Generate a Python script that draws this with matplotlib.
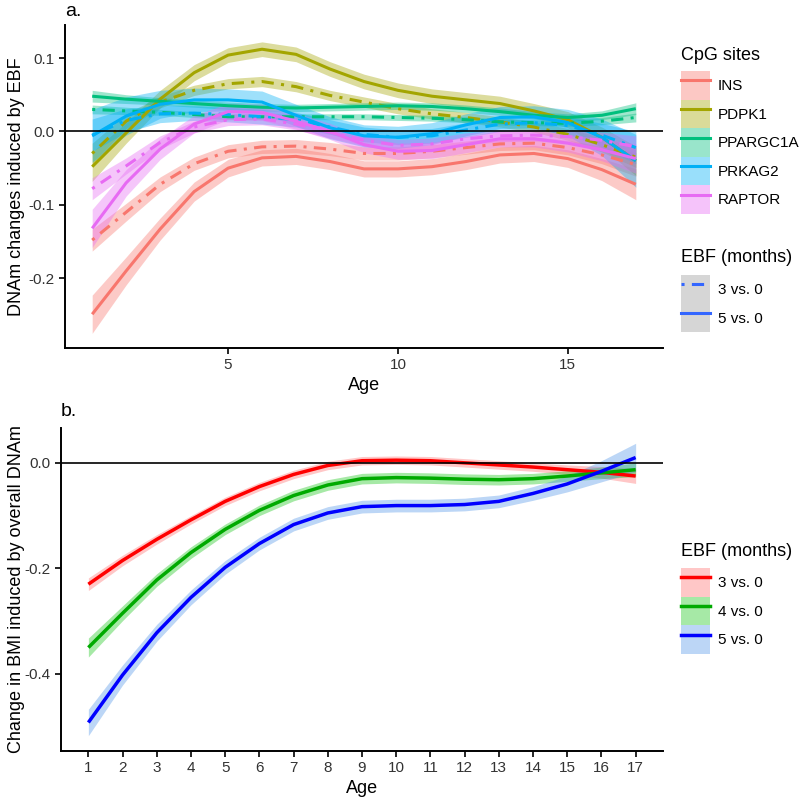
import numpy as np
import matplotlib
matplotlib.use("Agg")
import matplotlib.pyplot as plt
from matplotlib.patches import Patch
from matplotlib.lines import Line2D

plt.rcParams['font.family'] = ['Liberation Sans', 'DejaVu Sans']

# ---------------- data ----------------
ages = list(range(1, 18))

genes = ["INS", "PDPK1", "PPARGC1A", "PRKAG2", "RAPTOR"]
gene_colors = ["#F8766D", "#A3A500", "#00BF7D", "#00B0F6", "#E76BF3"]

# panel a: EBF 5 vs. 0 (solid) and 3 vs. 0 (dashed); *_ci = half-width of band
INS_5 = [-0.249, -0.190, -0.133, -0.082, -0.050, -0.036, -0.034, -0.041, -0.051, -0.051, -0.048, -0.041, -0.032, -0.030, -0.037, -0.052, -0.072]
INS_5_ci = [0.026, 0.019, 0.015, 0.013, 0.012, 0.011, 0.011, 0.011, 0.011, 0.011, 0.011, 0.011, 0.011, 0.011, 0.012, 0.015, 0.021]
INS_3 = [-0.148, -0.110, -0.072, -0.044, -0.027, -0.021, -0.020, -0.024, -0.030, -0.030, -0.027, -0.022, -0.017, -0.016, -0.022, -0.032, -0.045]
INS_3_ci = [0.015, 0.012, 0.010, 0.009, 0.009, 0.009, 0.009, 0.009, 0.009, 0.009, 0.009, 0.009, 0.009, 0.009, 0.010, 0.012, 0.016]

PDPK1_5 = [-0.048, -0.002, 0.044, 0.080, 0.104, 0.112, 0.105, 0.085, 0.068, 0.056, 0.048, 0.043, 0.038, 0.028, 0.016, -0.008, -0.040]
PDPK1_5_ci = [0.020, 0.014, 0.012, 0.011, 0.010, 0.010, 0.010, 0.010, 0.010, 0.010, 0.010, 0.010, 0.010, 0.010, 0.011, 0.014, 0.020]
PDPK1_3 = [-0.030, 0.014, 0.040, 0.056, 0.065, 0.068, 0.061, 0.049, 0.040, 0.031, 0.024, 0.019, 0.013, 0.006, -0.004, -0.018, -0.035]
PDPK1_3_ci = [0.014, 0.010, 0.008, 0.007, 0.007, 0.007, 0.007, 0.007, 0.007, 0.007, 0.007, 0.007, 0.007, 0.007, 0.008, 0.010, 0.014]

PPARGC1A_5 = [0.048, 0.044, 0.041, 0.038, 0.035, 0.033, 0.032, 0.033, 0.034, 0.035, 0.034, 0.031, 0.027, 0.022, 0.019, 0.022, 0.031]
PPARGC1A_5_ci = [0.008, 0.006, 0.005, 0.005, 0.005, 0.005, 0.005, 0.005, 0.005, 0.005, 0.005, 0.005, 0.005, 0.005, 0.005, 0.006, 0.008]
PPARGC1A_3 = [0.030, 0.028, 0.026, 0.023, 0.020, 0.020, 0.020, 0.020, 0.020, 0.019, 0.018, 0.016, 0.013, 0.012, 0.011, 0.014, 0.019]
PPARGC1A_3_ci = [0.006, 0.005, 0.004, 0.004, 0.004, 0.004, 0.004, 0.004, 0.004, 0.004, 0.004, 0.004, 0.004, 0.004, 0.004, 0.005, 0.006]

PRKAG2_5 = [-0.006, 0.021, 0.037, 0.043, 0.043, 0.040, 0.022, 0.005, -0.006, -0.008, -0.003, 0.009, 0.019, 0.020, 0.012, -0.008, -0.040]
PRKAG2_5_ci = [0.036, 0.026, 0.019, 0.016, 0.015, 0.015, 0.015, 0.015, 0.015, 0.015, 0.015, 0.015, 0.015, 0.015, 0.018, 0.025, 0.036]
PRKAG2_3 = [-0.005, 0.015, 0.024, 0.025, 0.023, 0.020, 0.016, 0.006, -0.004, -0.008, -0.006, 0.002, 0.010, 0.012, 0.008, -0.005, -0.022]
PRKAG2_3_ci = [0.022, 0.016, 0.012, 0.010, 0.010, 0.010, 0.010, 0.010, 0.010, 0.010, 0.010, 0.010, 0.010, 0.010, 0.012, 0.016, 0.022]

RAPTOR_5 = [-0.132, -0.070, -0.024, 0.010, 0.027, 0.026, 0.014, 0.000, -0.018, -0.027, -0.026, -0.018, -0.010, -0.010, -0.016, -0.025, -0.037]
RAPTOR_5_ci = [0.026, 0.018, 0.014, 0.012, 0.011, 0.011, 0.011, 0.011, 0.011, 0.011, 0.011, 0.011, 0.011, 0.011, 0.012, 0.015, 0.020]
RAPTOR_3 = [-0.078, -0.047, -0.015, 0.006, 0.016, 0.017, 0.010, -0.001, -0.012, -0.019, -0.017, -0.010, -0.006, -0.005, -0.007, -0.012, -0.021]
RAPTOR_3_ci = [0.015, 0.011, 0.009, 0.008, 0.008, 0.008, 0.008, 0.008, 0.008, 0.008, 0.008, 0.008, 0.008, 0.008, 0.009, 0.011, 0.015]

series_5 = [INS_5, PDPK1_5, PPARGC1A_5, PRKAG2_5, RAPTOR_5]
series_5_ci = [INS_5_ci, PDPK1_5_ci, PPARGC1A_5_ci, PRKAG2_5_ci, RAPTOR_5_ci]
series_3 = [INS_3, PDPK1_3, PPARGC1A_3, PRKAG2_3, RAPTOR_3]
series_3_ci = [INS_3_ci, PDPK1_3_ci, PPARGC1A_3_ci, PRKAG2_3_ci, RAPTOR_3_ci]

ebf_labels = ["3 vs. 0", "5 vs. 0"]

# panel b
bmi_labels = ["3 vs. 0", "4 vs. 0", "5 vs. 0"]
bmi_colors = ["#FF0000", "#00AA00", "#0000FF"]
bmi_fills = ["#FF0000", "#00C000", "#3F8AE6"]
bmi_alphas = [0.22, 0.35, 0.35]
bmi_3 = [-0.230, -0.185, -0.145, -0.108, -0.073, -0.045, -0.022, -0.005, 0.004, 0.005, 0.004, 0.000, -0.004, -0.008, -0.013, -0.018, -0.025]
bmi_3_ci = [0.012, 0.010, 0.009, 0.008, 0.008, 0.008, 0.008, 0.008, 0.008, 0.008, 0.008, 0.008, 0.008, 0.008, 0.009, 0.011, 0.014]
bmi_4 = [-0.350, -0.285, -0.222, -0.170, -0.126, -0.090, -0.062, -0.042, -0.030, -0.028, -0.029, -0.031, -0.032, -0.030, -0.025, -0.019, -0.013]
bmi_4_ci = [0.018, 0.014, 0.012, 0.011, 0.010, 0.010, 0.010, 0.010, 0.010, 0.010, 0.010, 0.010, 0.010, 0.010, 0.010, 0.011, 0.013]
bmi_5 = [-0.492, -0.402, -0.322, -0.255, -0.198, -0.153, -0.117, -0.095, -0.083, -0.081, -0.081, -0.079, -0.073, -0.058, -0.040, -0.016, 0.010]
bmi_5_ci = [0.025, 0.019, 0.016, 0.014, 0.013, 0.012, 0.012, 0.012, 0.012, 0.012, 0.012, 0.012, 0.012, 0.013, 0.015, 0.020, 0.027]
bmi_series = [bmi_3, bmi_4, bmi_5]
bmi_ci = [bmi_3_ci, bmi_4_ci, bmi_5_ci]

# ---------------- figure ----------------
W = H = 800
fig = plt.figure(figsize=(8, 8), dpi=100)

def box(l, t, r, b):
    return [l / W, 1 - b / H, (r - l) / W, (b - t) / H]

A_L, A_R, A_T, A_B = 65, 663, 25, 348
B_L, B_R, B_T, B_B = 61, 663, 428, 751
ax1 = fig.add_axes(box(A_L, A_T, A_R, A_B))
ax2 = fig.add_axes(box(B_L, B_T, B_R, B_B))

TICK_FS = 11
TITLE_FS = 13
LEG_FS = 11
x = np.array(ages, dtype=float)
dash_pat = (1, 2.4, 4, 2.4)
LW_A = 2.2
LW_B = 2.5

for c, s5, c5, s3, c3 in zip(gene_colors, series_5, series_5_ci, series_3, series_3_ci):
    s5, c5, s3, c3 = map(np.array, (s5, c5, s3, c3))
    ax1.fill_between(x, s3 - c3, s3 + c3, color=c, alpha=0.38, lw=0)
    ax1.fill_between(x, s5 - c5, s5 + c5, color=c, alpha=0.38, lw=0)
for c, s5, s3 in zip(gene_colors, series_5, series_3):
    ax1.plot(x, s3, color=c, lw=LW_A, dashes=dash_pat, solid_capstyle='butt')
    ax1.plot(x, s5, color=c, lw=LW_A, solid_capstyle='butt')

ax1.axhline(0, color='black', lw=1.2)
ax1.set_xlim(0.2, 17.8)
ax1.set_ylim(-0.295, 0.145)
ax1.set_xticks([5, 10, 15])
ax1.set_yticks([-0.2, -0.1, 0.0, 0.1])
ax1.set_yticklabels(["-0.2", "-0.1", "0.0", "0.1"])
ax1.set_xlabel("Age", fontsize=TITLE_FS, labelpad=3)
ax1.set_ylabel("DNAm changes induced by EBF", fontsize=TITLE_FS)
ax1.yaxis.set_label_coords((25 - A_L) / (A_R - A_L), 0.5)

for c, s, ci, fc, fa in zip(bmi_colors, bmi_series, bmi_ci, bmi_fills, bmi_alphas):
    s, ci = np.array(s), np.array(ci)
    ax2.fill_between(x, s - ci, s + ci, color=fc, alpha=fa, lw=0)
for c, s in zip(bmi_colors, bmi_series):
    ax2.plot(x, s, color=c, lw=LW_B, solid_capstyle='butt')
ax2.axhline(0, color='black', lw=1.2)
ax2.set_xlim(0.2, 17.8)
ax2.set_ylim(-0.546, 0.066)
ax2.set_xticks(ages)
ax2.set_yticks([-0.4, -0.2, 0.0])
ax2.set_yticklabels(["-0.4", "-0.2", "0.0"])
ax2.set_xlabel("Age", fontsize=TITLE_FS, labelpad=3)
ax2.set_ylabel("Change in BMI induced by overall DNAm", fontsize=TITLE_FS)
ax2.yaxis.set_label_coords((25 - B_L) / (B_R - B_L), 0.5)

for ax in (ax1, ax2):
    for sp in ("top", "right"):
        ax.spines[sp].set_visible(False)
    for sp in ("left", "bottom"):
        ax.spines[sp].set_linewidth(1.4)
    ax.tick_params(axis='both', length=4.5, width=1.2, labelsize=TICK_FS,
                   colors='black', labelcolor='#333333', pad=3)

fig.text(65 / W, 1 - 12 / H, "a.", fontsize=14, va='center', ha='left')
fig.text(61 / W, 1 - 412 / H, "b.", fontsize=14, va='center', ha='left')

# ---------------- legends ----------------
def key(fill, alpha, color, lw, dashed=False):
    p = Patch(facecolor=fill, alpha=alpha, edgecolor='none')
    if dashed:
        ln = Line2D([0], [0], color=color, lw=lw, dashes=dash_pat)
    else:
        ln = Line2D([0], [0], color=color, lw=lw)
    return (p, ln)

leg_kw = dict(frameon=False, fontsize=LEG_FS, handlelength=1.9,
              handleheight=2.5, labelspacing=0.0, handletextpad=0.5,
              borderpad=0, borderaxespad=0)
LEG_X = 681

def add_legend(handles, labels, title, title_y, keys_top):
    fig.text(LEG_X / W, 1 - title_y / H, title, fontsize=TITLE_FS, ha='left', va='center')
    return fig.legend(handles, labels, loc='upper left',
                      bbox_to_anchor=(LEG_X / W, 1 - keys_top / H), **leg_kw)

h1 = [key(c, 0.4, c, LW_A) for c in gene_colors]
add_legend(h1, genes, "CpG sites", 55, 71)

h2 = [key('#999999', 0.4, '#3366FF', LW_A, dashed=True), key('#999999', 0.4, '#3366FF', LW_A)]
add_legend(h2, ebf_labels, "EBF (months)", 258, 275)

h3 = [key(fc, fa, c, LW_B) for c, fc, fa in zip(bmi_colors, bmi_fills, bmi_alphas)]
add_legend(h3, bmi_labels, "EBF (months)", 552, 568)

fig.savefig("out.png", dpi=100)
